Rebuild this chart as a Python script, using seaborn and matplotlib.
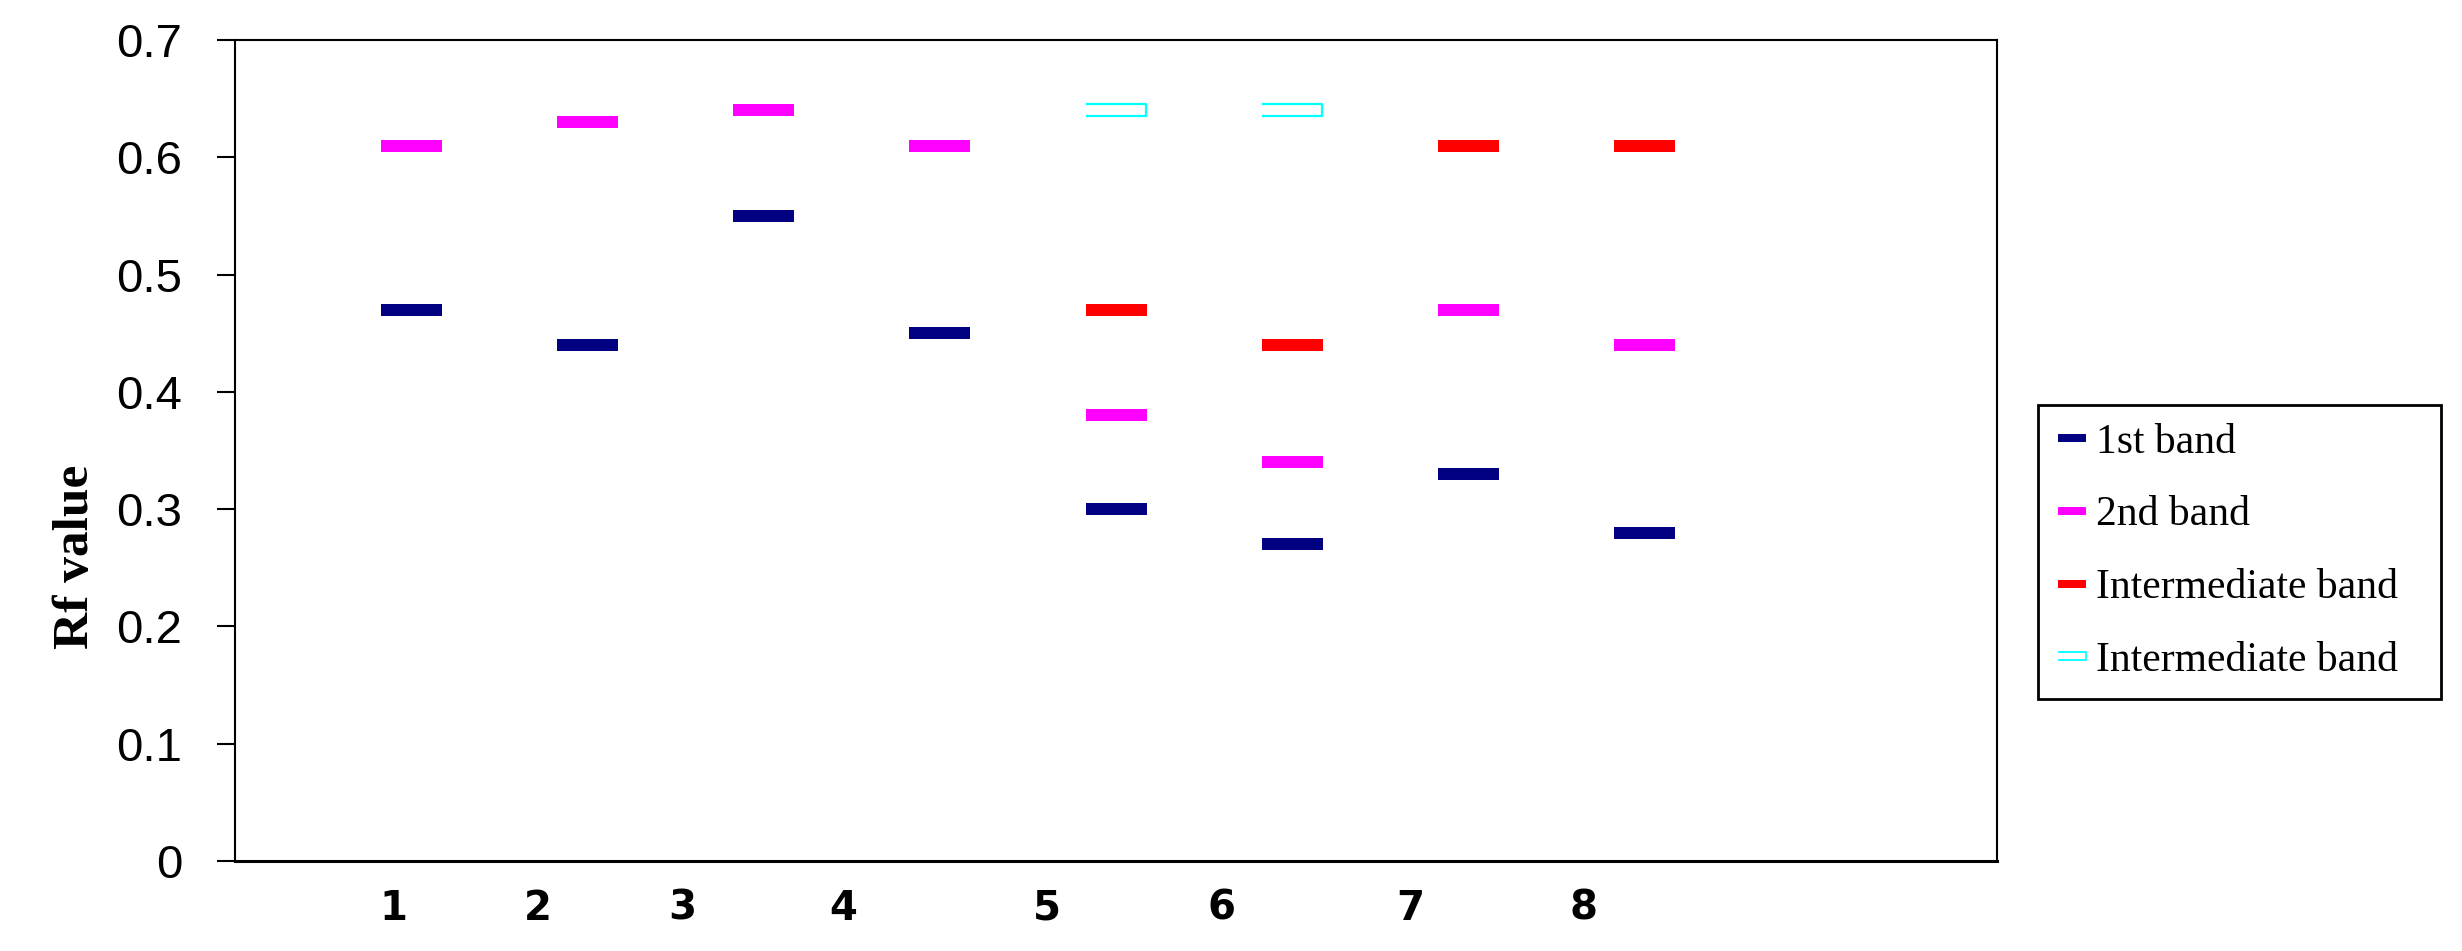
import pandas as pd
import matplotlib.pyplot as plt
import seaborn as sns
from matplotlib.lines import Line2D

# Rf values, one entry per sample (None = no band)
samples = [1, 2, 3, 4, 5, 6, 7, 8]
first_band = [0.47, 0.44, 0.55, 0.45, 0.30, 0.27, 0.33, 0.28]
second_band = [0.61, 0.63, 0.64, 0.61, 0.38, 0.34, 0.47, 0.44]
inter_red = [None, None, None, None, 0.47, 0.44, 0.61, 0.61]
inter_cyan = [None, None, None, None, 0.64, 0.64, None, None]

sample_labels = ["1", "2", "3", "4", "5", "6", "7", "8"]
label_pos = [0.90, 1.72, 2.54, 3.45, 4.61, 5.60, 6.67, 7.65]  # where the labels sit under the axis
yticks = [0, 0.1, 0.2, 0.3, 0.4, 0.5, 0.6, 0.7]
ytick_labels = ["0", "0.1", "0.2", "0.3", "0.4", "0.5", "0.6", "0.7"]

legend_labels = ["1st band", "2nd band", "Intermediate band", "Intermediate band"]
colors = {"first": "#000080", "second": "#FF00FF", "red": "#FF0000", "cyan": "#00FFFF"}

rows = []
for key, vals in [("first", first_band), ("second", second_band), ("red", inter_red)]:
    for s, v in zip(samples, vals):
        if v is not None:
            rows.append({"sample": s, "rf": v, "band": key})
df = pd.DataFrame(rows)
cyan_df = pd.DataFrame({"sample": samples, "rf": inter_cyan}).dropna()

sns.set_style("white")
plt.rcParams.update({"text.color": "black", "axes.labelcolor": "black",
                     "xtick.color": "black", "ytick.color": "black"})

fig = plt.figure(figsize=(24.62, 9.51), dpi=100)
ax = fig.add_axes([0.0955, 0.0946, 0.7157, 0.8633])

# flat rectangle marker, 61 x 12 px
bar = [(-0.5, -0.098), (0.5, -0.098), (0.5, 0.098), (-0.5, 0.098)]
sns.scatterplot(data=df, x="sample", y="rf", hue="band", palette=colors,
                marker=bar, s=43.9 ** 2, linewidth=0, legend=False, ax=ax, zorder=3)
sns.scatterplot(data=cyan_df, x="sample", y="rf", marker=bar, s=43.2 ** 2,
                color="white", edgecolor=colors["cyan"], linewidth=1.6,
                legend=False, ax=ax, zorder=3)

ax.set_xlim(0, 10)
ax.set_ylim(0, 0.7)
ax.set_xticks(label_pos)
ax.set_xticklabels(sample_labels, fontfamily="DejaVu Sans", fontweight="bold", fontsize=29)
ax.tick_params(axis="x", length=0, pad=20)
ax.set_yticks(yticks)
ax.set_yticklabels(ytick_labels, fontfamily="Liberation Sans", fontsize=34)
ax.tick_params(axis="y", direction="out", length=13, width=1.5, pad=25, color="black", left=True)
ax.set_xlabel("")
ax.set_ylabel("Rf value", fontfamily="Liberation Serif", fontweight="bold", fontsize=37)
ax.yaxis.set_label_coords(-0.077, 0.37)

for side in ["left", "right", "top"]:
    ax.spines[side].set_linewidth(1.5)
    ax.spines[side].set_color("black")
ax.spines["bottom"].set_linewidth(2.2)
ax.spines["bottom"].set_color("black")

leg_mark = [(-0.5, -0.14), (0.5, -0.14), (0.5, 0.14), (-0.5, 0.14)]
handles = []
for key in ["first", "second", "red", "cyan"]:
    face = "white" if key == "cyan" else colors[key]
    handles.append(Line2D([0], [0], linestyle="none", marker=leg_mark, markersize=20.5,
                          markerfacecolor=face, markeredgecolor=colors[key],
                          markeredgewidth=1.3 if key == "cyan" else 0))

leg = fig.legend(handles, legend_labels, loc="center left",
                 bbox_to_anchor=(0.8278, 0.42, 0.1637, 0.0), mode="expand",
                 prop={"family": "Liberation Serif", "size": 30},
                 frameon=True, fancybox=False, edgecolor="black", framealpha=1,
                 handlelength=0.75, handletextpad=0.2, labelspacing=0.82,
                 borderpad=0.45, borderaxespad=0)
leg.get_frame().set_linewidth(2)

fig.savefig("out.png", dpi=100)
